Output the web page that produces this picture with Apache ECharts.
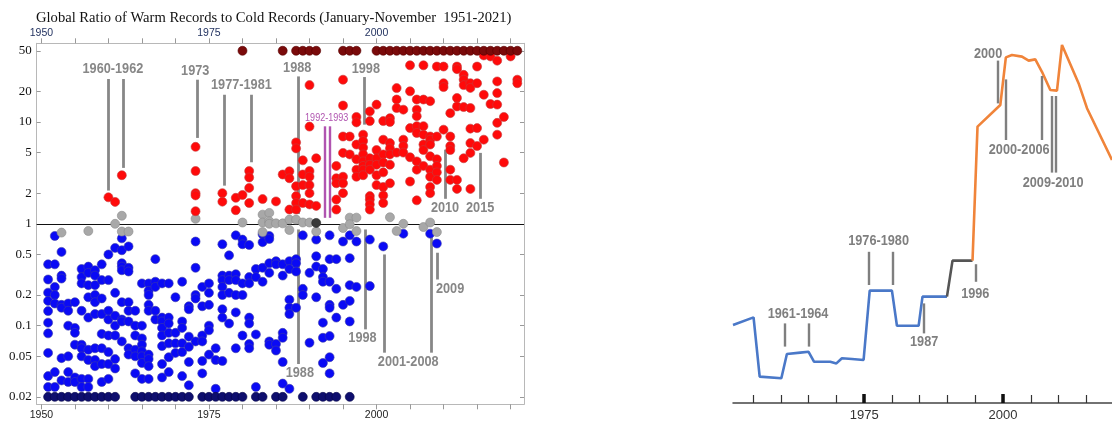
<!DOCTYPE html>
<html>
<head>
<meta charset="utf-8">
<script src="https://cdn.jsdelivr.net/npm/echarts@6/dist/echarts.min.js"></script>
<style>
  html, body { margin: 0; padding: 0; background: #fff; }
  #chart { width: 1112px; height: 424px; }
</style>
</head>
<body>
<div id="chart"></div>
<script>
// ---- left panel: monthly ratio of warm to cold records, by year ----
const CAP_HIGH = 50
const CAP_LOW = 0.02

const capHighYears = [1980, 1986, 1988, 1989, 1990, 1991, 1995, 1996, 1997,
  2000, 2001, 2002, 2003, 2004, 2005, 2006, 2007, 2008, 2009, 2010,
  2011, 2012, 2013, 2014, 2015, 2016, 2017, 2018, 2019, 2020, 2021]

const capLowYears = [1951, 1952, 1953, 1954, 1955, 1956, 1957, 1958, 1959, 1960, 1961,
  1964, 1965, 1966, 1967, 1968, 1969, 1970, 1971, 1972,
  1974, 1975, 1976, 1977, 1978, 1979, 1980, 1982, 1983, 1985, 1986,
  1989, 1991, 1992, 1993, 1994, 1996]

const warmByYear = [
  [1960, [1.82]], [1961, [1.64]], [1962, [3.0]],
  [1973, [5.7, 3.3, 2.0, 1.9, 1.33]],
  [1977, [2.0, 1.65]], [1979, [1.8, 1.36]], [1980, [1.92]],
  [1981, [3.3, 2.85, 2.25, 1.6]], [1983, [1.75]], [1985, [1.66]],
  [1986, [3.05]], [1987, [3.28, 2.8, 1.38]],
  [1988, [6.3, 5.5, 2.34, 1.87, 1.6, 1.38]],
  [1989, [4.2, 3.05, 2.4, 1.6]],
  [1990, [23, 9.0, 3.3, 2.9, 2.4, 2.0, 1.55]],
  [1991, [4.4, 1.5]],
  [1994, [3.7, 2.8, 2.5, 1.73, 1.38]],
  [1995, [26, 14.5, 7.2, 4.97, 2.9, 2.5, 2.0]],
  [1996, [7.2, 4.8]],
  [1997, [11.2, 9.9, 6.0, 4.3, 3.4, 2.9]],
  [1998, [7.5, 6.5, 5.6, 4.8, 4.1, 3.7, 3.4, 3.0]],
  [1999, [12.7, 10.2, 4.4, 3.8, 3.4, 1.87, 1.73, 1.55, 1.38]],
  [2000, [14.8, 5.3, 4.4, 3.8, 3.0, 2.4]],
  [2001, [10.2, 6.7, 4.8, 4.0, 3.2, 2.3, 1.9, 1.6]],
  [2002, [10.9, 10.0, 6.2, 5.5, 4.8, 3.8, 2.5]],
  [2003, [21.5, 16.6, 13.7, 5.0]],
  [2004, [13.2, 6.7, 5.8, 5.0]],
  [2005, [36, 20, 8.7, 4.5, 2.6]],
  [2006, [16.6, 13.2, 11.4, 9.1, 7.8, 4.1, 3.4, 1.7]],
  [2007, [36, 16.6, 9.1, 7.5, 6.0, 5.3, 3.7]],
  [2008, [16, 7.2, 6.7, 6.0, 4.6, 3.4, 2.9, 2.3, 2.0]],
  [2009, [35, 7.2, 4.3, 3.7, 3.2, 2.7]],
  [2010, [35, 24, 22, 8.4]],
  [2011, [12.2, 7.2, 5.8, 5.3, 3.4, 2.7]],
  [2012, [35, 33, 17.2, 14.2, 2.7, 2.2]],
  [2013, [29, 26, 23, 14, 4.4]],
  [2014, [24, 21.6, 13.7, 8.6, 6.2, 4.97, 2.2]],
  [2015, [35, 24, 8.7, 5.8]],
  [2016, [45, 18.5, 6.7]],
  [2017, [44, 15]],
  [2018, [40, 25, 19.2, 14.8, 9.8, 7.5]],
  [2019, [11.2, 4.0]],
  [2020, [44]],
  [2021, [26, 24]]
]

const neutralByYear = [
  [1953, [0.82]], [1957, [0.85]], [1961, [1.0]], [1962, [1.2, 0.84]], [1963, [0.84]],
  [1973, [1.12]], [1980, [1.03]], [1983, [1.23, 1.03, 0.83]], [1984, [1.28, 1.06, 1.0]],
  [1985, [1.01]], [1986, [1.01]], [1987, [1.1, 0.87]], [1988, [1.1]], [1989, [1.03]],
  [1990, [1.03]], [1991, [0.84]], [1995, [0.91]], [1996, [1.15, 0.99]], [1997, [1.15, 0.85]],
  [2002, [1.16]], [2003, [0.85]], [2004, [1.0]], [2007, [0.93]], [2008, [1.03]], [2009, [0.83]]
]

const darkNeutralByYear = [[1991, [1.02]]]

const coldByYear = [
  [1951, [0.40, 0.284, 0.211, 0.175, 0.139, 0.107, 0.084, 0.054, 0.032, 0.025]],
  [1952, [0.76, 0.40, 0.24, 0.2, 0.165, 0.035, 0.025]],
  [1953, [0.53, 0.31, 0.29, 0.16, 0.15, 0.048, 0.029]],
  [1954, [0.165, 0.14, 0.1, 0.05, 0.035, 0.028]],
  [1955, [0.17, 0.095, 0.085, 0.065, 0.031, 0.028]],
  [1956, [0.36, 0.3, 0.26, 0.14, 0.065, 0.06, 0.05, 0.03, 0.025]],
  [1957, [0.38, 0.33, 0.25, 0.19, 0.12, 0.058, 0.046, 0.03, 0.025]],
  [1958, [0.35, 0.31, 0.25, 0.2, 0.17, 0.13, 0.06, 0.046, 0.04]],
  [1959, [0.4, 0.28, 0.185, 0.13, 0.083, 0.06, 0.042, 0.028]],
  [1960, [0.5, 0.28, 0.14, 0.115, 0.08, 0.055, 0.042, 0.03]],
  [1961, [0.58, 0.21, 0.125, 0.1, 0.08, 0.047, 0.038]],
  [1962, [0.72, 0.55, 0.41, 0.38, 0.35, 0.17, 0.115, 0.11, 0.07]],
  [1963, [0.6, 0.37, 0.34, 0.17, 0.14, 0.11, 0.06, 0.052]],
  [1964, [0.14, 0.1, 0.08, 0.058, 0.05, 0.034]],
  [1965, [0.26, 0.1, 0.075, 0.065, 0.056, 0.05, 0.043, 0.03]],
  [1966, [0.26, 0.22, 0.2, 0.16, 0.14, 0.052, 0.047, 0.04, 0.03]],
  [1967, [0.45, 0.27, 0.24, 0.14, 0.115]],
  [1968, [0.26, 0.12, 0.11, 0.095, 0.08, 0.063, 0.042, 0.031]],
  [1969, [0.26, 0.12, 0.105, 0.085, 0.067, 0.049, 0.035]],
  [1970, [0.19, 0.085, 0.067, 0.054]],
  [1971, [0.27, 0.11, 0.095, 0.067, 0.055, 0.032]],
  [1972, [0.155, 0.145, 0.078, 0.062, 0.044, 0.026]],
  [1973, [0.67, 0.37, 0.2, 0.185, 0.07]],
  [1974, [0.24, 0.155, 0.08, 0.07, 0.045, 0.034]],
  [1975, [0.26, 0.21, 0.16, 0.1, 0.09, 0.052]],
  [1976, [0.06, 0.046, 0.024]],
  [1977, [0.63, 0.31, 0.28, 0.24, 0.2, 0.145, 0.12, 0.045]],
  [1978, [0.49, 0.31, 0.28, 0.21, 0.105]],
  [1979, [0.77, 0.32, 0.28, 0.2, 0.135, 0.06]],
  [1980, [0.7, 0.63, 0.26, 0.2, 0.08]],
  [1981, [0.62, 0.3, 0.26, 0.12, 0.105, 0.066, 0.06]],
  [1982, [0.36, 0.3, 0.082, 0.025]],
  [1983, [0.79, 0.66, 0.37, 0.27]],
  [1984, [0.76, 0.71, 0.41, 0.33, 0.07, 0.065]],
  [1985, [0.43, 0.4, 0.066, 0.057]],
  [1986, [0.4, 0.31, 0.085, 0.076, 0.044, 0.027]],
  [1987, [0.43, 0.36, 0.18, 0.15, 0.13, 0.024]],
  [1988, [0.45, 0.41, 0.34, 0.15]],
  [1989, [0.77, 0.23, 0.2]],
  [1990, [0.33, 0.068]],
  [1991, [0.7, 0.48, 0.38, 0.19]],
  [1992, [0.36, 0.3, 0.27, 0.107, 0.076, 0.043]],
  [1993, [0.77, 0.45, 0.27, 0.16, 0.15, 0.079, 0.049, 0.034]],
  [1994, [0.45, 0.23, 0.12]],
  [1995, [0.67, 0.16]],
  [1996, [0.77, 0.46, 0.25, 0.175, 0.11]],
  [1997, [0.67, 0.24]],
  [1999, [0.7, 0.245]],
  [2001, [0.6]],
  [2004, [0.8]],
  [2008, [0.8]],
  [2009, [0.64]]
]

const ratioTicks = [0.02, 0.05, 0.1, 0.2, 0.5, 1, 2, 5, 10, 20, 50]
const leftTickYears = [1950, 1955, 1960, 1965, 1970, 1975, 1980, 1985, 1990, 1995, 2000, 2005, 2010, 2015, 2020]
const leftLabelYears = [1950, 1975, 2000]

// annotations: label at [year, ratio], lines as [year, from, to]
const leftNotes = [
  { text: '1960-1962', at: [1960.67, 33.1], lines: [[1960.0, 26.4, 2.12], [1962.2, 26.4, 3.54]] },
  { text: '1973', at: [1972.95, 32.1], lines: [[1973.2, 26, 6.97]] },
  { text: '1977-1981', at: [1979.84, 23.2], lines: [[1977.3, 18.5, 2.37], [1981.3, 18.5, 4.02]] },
  { text: '1988', at: [1988.17, 33.8], lines: [[1988.3, 28, 1.25]] },
  { text: '1998', at: [1998.4, 33.1], lines: [[1998.1, 27.6, 9.41]] },
  { text: '2010', at: [2010.22, 1.435], lines: [[2010.26, 5.35, 1.76]] },
  { text: '2015', at: [2015.46, 1.435], lines: [[2015.5, 4.97, 1.76]] },
  { text: '1988', at: [1988.56, 0.0346], lines: [[1988.3, 0.88, 0.042]] },
  { text: '1998', at: [1997.9, 0.076], lines: [[1998.25, 0.88, 0.092]] },
  { text: '2001-2008', at: [2004.73, 0.0444], lines: [[2001.2, 0.5, 0.0543], [2008.2, 0.866, 0.0543]] },
  { text: '2009', at: [2010.97, 0.232], lines: [[2009.0, 0.52, 0.284]] }
]
const purpleNotes = [
  { text: '1992-1993', at: [1992.56, 10.9], lines: [[1992.2, 9.06, 1.145], [1993.05, 9.06, 1.145]] }
]

// ---- right panel: running index (arbitrary units) ----
const coolPhase = [[1951.4, 19.5], [1955.1, 21.4], [1956.2, 6.6], [1960.1, 6.2], [1961.1, 12.25],
  [1963.5, 12.6], [1965.0, 12.8], [1966.0, 10.3], [1968.9, 10.3], [1970.0, 9.9], [1971.0, 11.2],
  [1972.8, 11.0], [1974.9, 10.75], [1976.0, 28.1], [1980.0, 28.1], [1980.9, 19.3], [1984.8, 19.3],
  [1985.5, 26.6], [1989.9, 26.6]]
const transition = [[1989.9, 26.6], [1990.9, 35.6], [1994.5, 35.6]]
const warmPhase = [[1994.5, 35.6], [1995.4, 69.1], [1999.5, 74.5], [2000.5, 86.4], [2001.6, 87],
  [2003.4, 86.6], [2004.6, 85.6], [2005.8, 85.9], [2007.0, 82.8], [2008.5, 78.25], [2009.7, 78.1],
  [2010.6, 89.5], [2013.6, 79.9], [2015.1, 73.7], [2019.6, 60.75]]
const rightTickYears = [1955, 1960, 1965, 1970, 1975, 1980, 1985, 1990, 1995, 2000, 2005, 2010, 2015]
const rightMajorYears = [1975, 2000]
const rightNotes = [
  { text: '1961-1964', at: [1963.1, 22.25], lines: [[1960.7, 19.9, 14.1], [1965.0, 19.9, 14.1]] },
  { text: '1976-1980', at: [1977.6, 40.6], lines: [[1975.9, 37.8, 29.5], [1980.1, 37.8, 29.5]] },
  { text: '1987', at: [1985.8, 15.3], lines: [[1985.7, 24.9, 17.4]] },
  { text: '1996', at: [1995.0, 27.4], lines: [[1995.0, 34.7, 30.3]] },
  { text: '2000', at: [1997.3, 87.4], lines: [[1999.0, 85.6, 74.9]] },
  { text: '2000-2006', at: [2002.9, 63.25], lines: [[2000.5, 80.9, 65.75], [2007.0, 81.75, 65.75]] },
  { text: '2009-2010', at: [2009.0, 55.1], lines: [[2008.8, 76.75, 57.6], [2009.5, 76.75, 57.6]] }
]

const expand = rows => rows.flatMap(([yr, vals]) => vals.map(v => [yr, v]))
const capped = (years, v) => years.map(yr => [yr, v])

function dots (name, data, color, border) {
  return {
    name,
    type: 'scatter',
    xAxisIndex: 0,
    yAxisIndex: 0,
    data,
    symbolSize: 9,
    itemStyle: { color, borderColor: border, borderWidth: 0.6, opacity: 1 },
    z: 5
  }
}

// leader lines (markLine on an invisible scatter)
function noteLines (notes, xi, yi, color, width) {
  const segs = []
  notes.forEach(n => n.lines.forEach(([x, a, b]) => {
    segs.push([{ coord: [x, a] }, { coord: [x, b] }])
  }))
  return {
    type: 'scatter',
    xAxisIndex: xi,
    yAxisIndex: yi,
    symbolSize: 1,
    itemStyle: { color: 'transparent' },
    data: notes.map(n => n.at),
    silent: true,
    markLine: {
      silent: true,
      symbol: 'none',
      label: { show: false },
      lineStyle: { color, width, type: 'solid' },
      data: segs
    },
    z: 2
  }
}

// labels drawn as narrow text (Arial Narrow look: squeeze Liberation Sans horizontally)
function noteLabels (notes, xi, yi, color, fontSize, fontWeight, squeeze) {
  return {
    type: 'custom',
    xAxisIndex: xi,
    yAxisIndex: yi,
    silent: true,
    data: notes.map(n => n.at),
    renderItem (params, api) {
      const p = api.coord([api.value(0), api.value(1)])
      return {
        type: 'text',
        x: p[0],
        y: p[1],
        scaleX: squeeze,
        style: {
          text: notes[params.dataIndex].text,
          fill: color,
          fontFamily: 'Liberation Sans',
          fontSize,
          fontWeight,
          align: 'center',
          verticalAlign: 'middle'
        }
      }
    },
    z: 8
  }
}

const dom = echarts.init(document.getElementById('chart'), null, { renderer: 'canvas' })

const yearFmt = v => String(v)

const option = {
  animation: false,
  backgroundColor: '#fff',
  title: {
    text: 'Global Ratio of Warm Records to Cold Records (January-November  1951-2021)',
    left: 31,
    top: 6,
    textStyle: { fontFamily: 'Liberation Serif', fontWeight: 'normal', fontSize: 14.6, color: '#111' }
  },
  grid: [
    { left: 36.7, top: 43.3, width: 487.3, height: 361 },
    { left: 733, top: 3, width: 379, height: 400 }
  ],
  xAxis: [
    {
      gridIndex: 0, type: 'value', position: 'bottom', min: 1949.3, max: 2022,
      axisLine: { show: true, lineStyle: { color: '#b8b8b8', width: 1 } },
      axisTick: { show: true, customValues: leftTickYears, length: 5, lineStyle: { color: '#999' } },
      axisLabel: { customValues: leftLabelYears, formatter: yearFmt, color: '#222', fontSize: 10.5, fontFamily: 'Liberation Sans', margin: 5 },
      splitLine: { show: false }
    },
    {
      gridIndex: 0, type: 'value', position: 'top', min: 1949.3, max: 2022,
      axisLine: { show: true, lineStyle: { color: '#b8b8b8', width: 1 } },
      axisTick: { show: true, customValues: leftTickYears, length: 5, lineStyle: { color: '#999' } },
      axisLabel: { customValues: leftLabelYears, formatter: yearFmt, color: '#1d2d5c', fontSize: 10.5, fontFamily: 'Liberation Sans', margin: 5 },
      splitLine: { show: false }
    },
    {
      gridIndex: 1, type: 'value', position: 'bottom', min: 1951.4, max: 2019.6,
      axisLine: { show: true, lineStyle: { color: '#444', width: 1.5 } },
      axisTick: { show: true, inside: true, customValues: rightTickYears, length: 8, lineStyle: { color: '#333', width: 1.2 } },
      axisLabel: { customValues: rightMajorYears, formatter: yearFmt, color: '#333', fontSize: 13, fontFamily: 'Liberation Sans', margin: 6 },
      splitLine: { show: false }
    },
    {
      gridIndex: 1, type: 'value', position: 'bottom', min: 1951.4, max: 2019.6,
      axisLine: { show: false },
      axisTick: { show: true, inside: true, customValues: rightMajorYears, length: 9, lineStyle: { color: '#111', width: 3.5 } },
      axisLabel: { show: false },
      splitLine: { show: false }
    }
  ],
  yAxis: [
    {
      gridIndex: 0, type: 'log', logBase: 10, position: 'left', min: 0.0169, max: 59.2,
      axisLine: { show: true, lineStyle: { color: '#b8b8b8', width: 1 } },
      axisTick: { show: true, inside: true, customValues: ratioTicks, length: 4, lineStyle: { color: '#999' } },
      axisLabel: {
        customValues: ratioTicks,
        formatter: v => String(Math.round(v * 100) / 100),
        fontFamily: 'Liberation Serif', fontSize: 13, color: '#111', margin: 5
      },
      splitLine: { show: false }
    },
    {
      gridIndex: 0, type: 'log', logBase: 10, position: 'right', min: 0.0169, max: 59.2,
      axisLine: { show: true, lineStyle: { color: '#b8b8b8', width: 1 } },
      axisTick: { show: true, inside: true, customValues: ratioTicks, length: 4, lineStyle: { color: '#999' } },
      axisLabel: { show: false },
      splitLine: { show: false }
    },
    { gridIndex: 1, type: 'value', min: 0, max: 100, show: false }
  ],
  series: [
    noteLines(leftNotes, 0, 0, '#878787', 2.8),
    noteLines(purpleNotes, 0, 0, '#b054b0', 2.4),
    {
      ...dots('cold', expand(coldByYear), '#0a0af5', '#3c3ca8'),
      markLine: {
        silent: true,
        symbol: 'none',
        label: { show: false },
        lineStyle: { color: '#111', width: 1, type: 'solid' },
        data: [{ yAxis: 1 }]
      }
    },
    dots('neutral', expand(neutralByYear), '#a8a8a8', '#8c8c8c'),
    dots('neutralDark', expand(darkNeutralByYear), '#3a3a3a', '#222'),
    dots('warm', expand(warmByYear), '#ff0a0a', '#c43c3c'),
    dots('capHigh', capped(capHighYears, CAP_HIGH), '#7a0a0a', '#560000'),
    dots('capLow', capped(capLowYears, CAP_LOW), '#0e0e6e', '#060648'),
    noteLabels(leftNotes, 0, 0, '#878787', 15.5, 'bold', 0.82),
    noteLabels(purpleNotes, 0, 0, '#b054b0', 11, 'normal', 0.82),
    {
      type: 'line', xAxisIndex: 2, yAxisIndex: 2, data: coolPhase,
      symbol: 'none', lineStyle: { color: '#4a78c8', width: 2.6 }, z: 4
    },
    {
      type: 'line', xAxisIndex: 2, yAxisIndex: 2, data: transition,
      symbol: 'none', lineStyle: { color: '#555', width: 2.6 }, z: 4
    },
    {
      type: 'line', xAxisIndex: 2, yAxisIndex: 2, data: warmPhase,
      symbol: 'none', lineStyle: { color: '#f0843a', width: 2.6 }, z: 4
    },
    noteLines(rightNotes, 2, 2, '#7f7f7f', 2.4),
    noteLabels(rightNotes, 2, 2, '#7f7f7f', 15.5, 'bold', 0.82)
  ]
}

dom.setOption(option)
window.addEventListener('resize', () => dom.resize())
</script>
</body>
</html>
